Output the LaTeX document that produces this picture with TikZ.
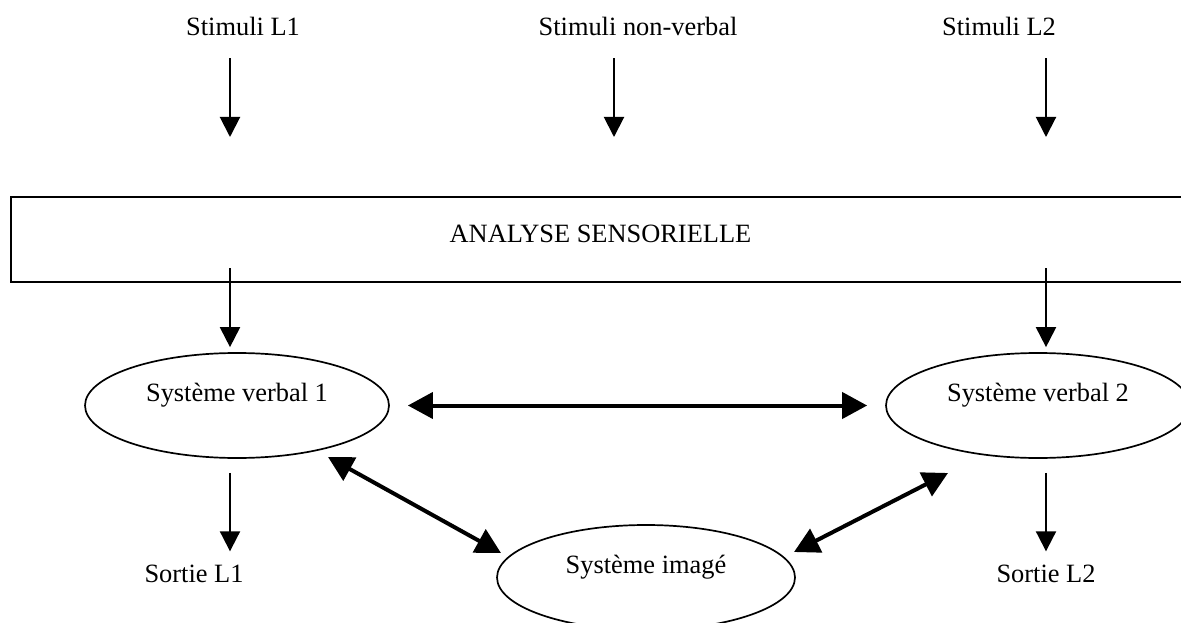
\documentclass[tikz,border=0pt]{standalone}
\usepackage{fontspec}
\setmainfont{Liberation Serif}
\usetikzlibrary{arrows.meta,shapes.geometric}
\begin{document}
\begin{tikzpicture}[x=1pt,y=-1pt,
  every node/.style={font=\fontsize{26.4pt}{30pt}\selectfont, inner sep=0pt},
  txt/.style={anchor=base},
  ell/.style={draw, ellipse, line width=1.7pt, text height=18pt, text depth=27pt},
  thinarr/.style={line width=2pt, -{Triangle[width=20pt,length=20pt]}},
  thickarr/.style={line width=4pt, {Triangle[width=26pt,length=25pt]}-{Triangle[width=26pt,length=25pt]}}
]
\useasboundingbox (0,0) rectangle (1181,623);
\fill[white] (0,0) rectangle (1181,623);

% x positions of the vertical arrows
\coordinate (xa) at (230,0);
\coordinate (xb) at (614,0);
\coordinate (xc) at (1046,0);

% top labels
\node[txt] (s1) at (243,36) {Stimuli L1};
\node[txt] (snv) at (638,36) {Stimuli non-verbal};
\node[txt] (s2) at (999,36) {Stimuli L2};

% sensory analysis box
\node[draw, rectangle, line width=2pt, minimum width=1179pt, minimum height=85pt,
      text height=18pt, text depth=13pt] (as) at (600.5,239.5) {ANALYSE SENSORIELLE};

% systems
\node[ell, minimum width=304pt, minimum height=105pt] (sv1) at (237,405.5) {Système verbal 1};
\node[ell, minimum width=304pt, minimum height=105pt] (sv2) at (1038,405.5) {Système verbal 2};
\node[ell, minimum width=298pt, minimum height=105pt] (si) at (646,577.5) {Système imagé};

% outputs
\node[txt] (o1) at (194,582) {Sortie L1};
\node[txt] (o2) at (1046,582) {Sortie L2};

% stimuli -> analysis
\draw[thinarr, shorten <=22pt, shorten >=59pt] (s1.south -| xa) -- (as.north -| xa);
\draw[thinarr, shorten <=22pt, shorten >=59pt] (snv.south -| xb) -- (as.north -| xb);
\draw[thinarr, shorten <=22pt, shorten >=59pt] (s2.south -| xc) -- (as.north -| xc);

% analysis -> verbal systems
\draw[thinarr, shorten <=28.5pt, shorten >=5pt] (as.center -| xa) -- (sv1.north -| xa);
\draw[thinarr, shorten <=28.5pt, shorten >=5pt] (as.center -| xc) -- (sv2.north -| xc);

% verbal systems -> outputs
\draw[thinarr, shorten <=14pt, shorten >=13pt] (sv1.south -| xa) -- (o1.north -| xa);
\draw[thinarr, shorten <=14pt, shorten >=13pt] (sv2.south -| xc) -- (o2.north -| xc);

% links between systems
\draw[thickarr, shorten <=18pt, shorten >=18pt] (sv1) -- (sv2);
\coordinate (d1a) at (328,457);
\coordinate (d1b) at (501,553);
\coordinate (d2a) at (794,552);
\coordinate (d2b) at (948,473);
\draw[thickarr] (d1a) -- (d1b);
\draw[thickarr] (d2a) -- (d2b);
\end{tikzpicture}
\end{document}
